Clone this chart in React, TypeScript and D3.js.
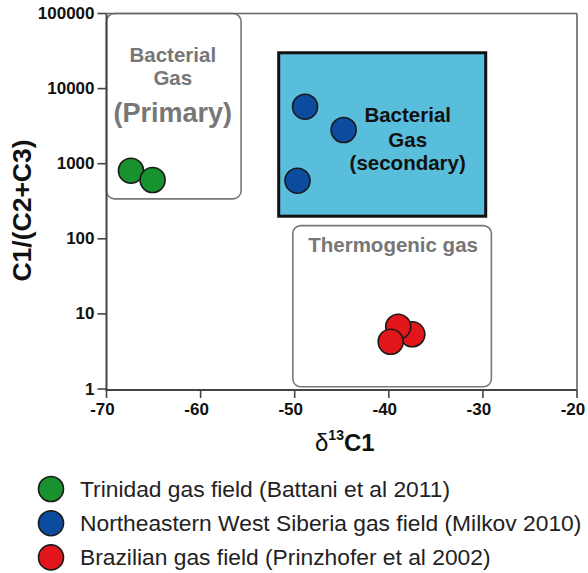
import React from "react";
import * as d3 from "d3";

// δ13C1 (‰) and C1/(C2+C3) for each gas field
const trinidadX = [-67.4, -65.1];
const trinidadY = [807, 607];
const siberiaX = [-48.9, -44.8, -49.7];
const siberiaY = [5740, 2810, 594];
const brazilX = [-37.5, -39.0, -39.8];
const brazilY = [5.35, 6.75, 4.26];

// Genetic fields: [xMin, xMax, yMin, yMax]
const primaryField = [-70, -55.7, 340, 100000];
const secondaryField = [-51.7, -29.7, 200, 30000];
const thermogenicField = [-50.2, -29.1, 1.07, 150];

const xTicks = [-70, -60, -50, -40, -30, -20];
const yTicks = [1, 10, 100, 1000, 10000, 100000];

const seriesNames = [
  "Trinidad gas field (Battani et al 2011)",
  "Northeastern West Siberia gas field (Milkov 2010)",
  "Brazilian gas field (Prinzhofer et al 2002)",
];
const seriesColors = ["#17922f", "#0c4c9e", "#e3171b"];

const W = 588;
const H = 573;
const FONT = "'Liberation Sans', Arial, Helvetica, sans-serif";

export default function App() {
  const x = d3.scaleLinear().domain([-70, -20]).range([106.5, 577]);
  const y = d3.scaleLog().domain([1, 100000]).range([389, 13.5]);
  const r = 12.5;

  const rectOf = (f: number[]) => ({
    x: x(f[0]),
    y: y(f[3]),
    w: x(f[1]) - x(f[0]),
    h: y(f[2]) - y(f[3]),
  });
  const pri = rectOf(primaryField);
  const sec = rectOf(secondaryField);
  const the = rectOf(thermogenicField);

  const series = [
    { xs: trinidadX, ys: trinidadY, color: seriesColors[0] },
    { xs: siberiaX, ys: siberiaY, color: seriesColors[1] },
    { xs: brazilX, ys: brazilY, color: seriesColors[2] },
  ];

  const [x0, x1] = x.range();
  const [yb, yt] = y.range();

  return (
    <svg width={W} height={H} style={{ position: "absolute", left: 0, top: 0 }} fontFamily={FONT}>
      <rect width={W} height={H} fill="#fff" />

      {/* fields */}
      <rect x={pri.x} y={pri.y} width={pri.w} height={pri.h} rx={8} fill="#fff" stroke="#777" strokeWidth={1.6} />
      <rect x={sec.x} y={sec.y} width={sec.w} height={sec.h} fill="#59bedb" stroke="#111" strokeWidth={3} />
      <rect x={the.x} y={the.y} width={the.w} height={the.h} rx={8} fill="#fff" stroke="#777" strokeWidth={1.6} />

      <g fill="#777" fontWeight="bold" textAnchor="middle" dominantBaseline="central">
        <text x={pri.x + pri.w / 2 - 1} y={pri.y + 40.5} fontSize={20.5}>Bacterial</text>
        <text x={pri.x + pri.w / 2 - 1} y={pri.y + 63.5} fontSize={20.5}>Gas</text>
        <text x={pri.x + pri.w / 2 - 1} y={pri.y + 99} fontSize={27}>(Primary)</text>
        <text x={the.x + the.w / 2 + 1} y={the.y + 18.5} fontSize={20.5}>Thermogenic gas</text>
      </g>
      <g fill="#111" fontWeight="bold" textAnchor="middle" dominantBaseline="central" fontSize={20.5}>
        <text x={sec.x + 129} y={sec.y + 62}>Bacterial</text>
        <text x={sec.x + 129} y={sec.y + 87}>Gas</text>
        <text x={sec.x + 129} y={sec.y + 110}>(secondary)</text>
      </g>

      {/* frame */}
      <line x1={x0} x2={x1} y1={yt} y2={yt} stroke="#666" strokeWidth={1.6} />
      <line x1={x1} x2={x1} y1={yt} y2={yb + 1} stroke="#666" strokeWidth={1.6} />
      <line x1={x0} x2={x0} y1={yt} y2={yb + 1} stroke="#444" strokeWidth={2} />
      <line x1={x0 - 1} x2={x1} y1={yb + 1} y2={yb + 1} stroke="#444" strokeWidth={2} />

      {/* y axis */}
      {yTicks.map((t) => (
        <g key={t}>
          <line x1={x0 - 9} x2={x0} y1={y(t)} y2={y(t)} stroke="#444" strokeWidth={1.6} />
          <text x={x0 - 12} y={y(t)} textAnchor="end" dominantBaseline="central" fontSize={17} fontWeight="bold" fill="#111">
            {t}
          </text>
        </g>
      ))}
      {/* x axis */}
      {xTicks.map((t) => (
        <g key={t}>
          <line x1={x(t)} x2={x(t)} y1={yb + 1} y2={yb + 9} stroke="#444" strokeWidth={1.6} />
          <text x={x(t) - 4} y={415} textAnchor="middle" fontSize={17} fontWeight="bold" fill="#111">
            {t}
          </text>
        </g>
      ))}

      {/* axis titles */}
      <text
        transform={`translate(31,210.5) rotate(-90)`}
        textAnchor="middle"
        fontSize={26.5}
        fontWeight="bold"
        fill="#111"
      >
        C1/(C2+C3)
      </text>
      <text x={315} y={451} fill="#111" fontSize={24}>
        <tspan>δ</tspan>
        <tspan fontSize={14} fontWeight="bold" dy={-11}>13</tspan>
        <tspan fontWeight="bold" dy={11}>C1</tspan>
      </text>

      {/* samples */}
      {series.map((s, si) => (
        <g key={si}>
          {s.xs.map((v, i) => (
            <circle key={i} cx={x(v)} cy={y(s.ys[i])} r={r} fill={s.color} stroke="#1a1a1a" strokeWidth={1.6} />
          ))}
        </g>
      ))}

      {/* legend */}
      {seriesNames.map((name, i) => (
        <g key={name} transform={`translate(0,${489 + i * 34.2})`}>
          <circle cx={51} cy={0} r={12.5} fill={seriesColors[i]} stroke="#1a1a1a" strokeWidth={1.6} />
          <text x={80} y={0} dominantBaseline="central" fontSize={22.8} fill="#222">
            {name}
          </text>
        </g>
      ))}
    </svg>
  );
}
